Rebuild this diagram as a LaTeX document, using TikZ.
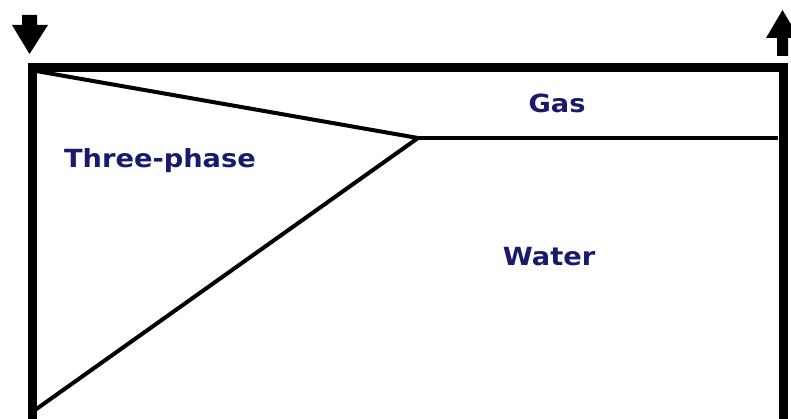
\documentclass[tikz,border=0pt]{standalone}
\usepackage{fontspec}
\setmainfont{DejaVu Sans}
\definecolor{labelnavy}{RGB}{25,25,110}
\newcommand{\widelabel}[1]{\scalebox{1.09}[1]{#1}}
\begin{document}
\begin{tikzpicture}[x=1pt,y=-1pt,
  frame/.style={line width=9pt},
  divider/.style={line width=4pt},
  flowarrow/.style={fill=black},
  phaselabel/.style={text=labelnavy,font=\bfseries\fontsize{25}{28}\selectfont,inner sep=0pt}]
\useasboundingbox (0,0) rectangle (791,419);
\fill[white] (0,0) rectangle (791,419);
% corners
\coordinate (bl) at (32,425);
\coordinate (tl) at (32,68);
\coordinate (tr) at (783,68);
\coordinate (br) at (783,425);
\coordinate (apex) at (418,138);
\coordinate (gasend) at (778,138);
\coordinate (tlin) at (36,71);
\coordinate (blin) at (35,410);
% frame
\draw[frame] (bl) -- (tl) -- (tr) -- (br);
% dividers
\draw[divider] (tlin) -- (apex) -- (blin);
\draw[divider] (apex) -- (gasend);
% arrows
\fill[flowarrow] (22,15) -- (37,15) -- (37,25) -- (48,25) -- (29.5,54) -- (12,25) -- (22,25) -- cycle;
\fill[flowarrow] (777,56) -- (788,56) -- (788,38) -- (799,38) -- (782.5,10) -- (766,38) -- (777,38) -- cycle;
% labels
\node[phaselabel] (gas) at (557,103) {\widelabel{Gas}};
\node[phaselabel] (three) at (160,161) {\widelabel{Three-phase}};
\node[phaselabel] (water) at (549,257) {\widelabel{Water}};
\end{tikzpicture}
\end{document}
